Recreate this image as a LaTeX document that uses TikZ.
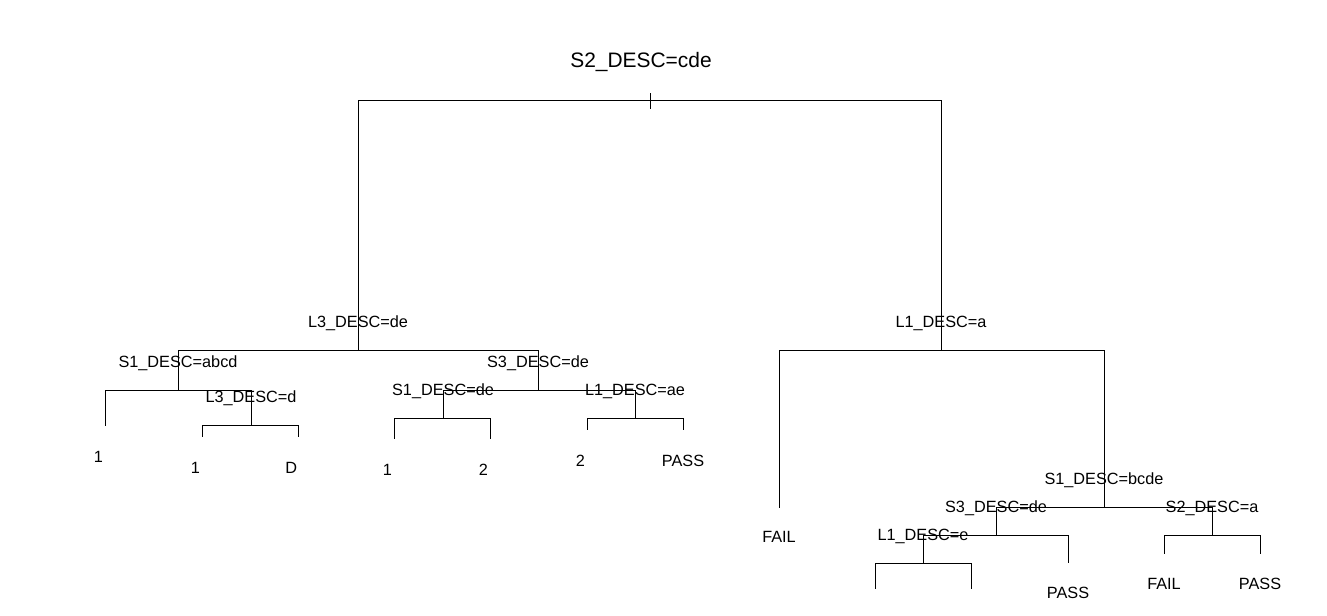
\documentclass[tikz,border=0pt]{standalone}
\usepackage{fontspec}
\setmainfont{Liberation Sans}

\tikzset{
  splitlbl/.style={anchor=base, inner sep=0pt, yshift=17pt,
    font=\fontsize{12.2}{14}\selectfont},
  leaflbl/.style={anchor=base, inner sep=0pt, yshift=#1,
    font=\fontsize{12.2}{14}\selectfont},
  leaflbl/.default=-27.5pt,
  toplbl/.style={anchor=base, inner sep=0pt,
    font=\fontsize{15.7}{18}\selectfont},
}

\begin{document}
\begin{tikzpicture}[x=0.75pt, y=-0.75pt, line width=0.75pt]
  \useasboundingbox (0,0) rectangle (1327,615);
  % splits
  \coordinate (n1) at (650,100);
  \coordinate (n2) at (358,350);
  \coordinate (n3) at (941,350);
  \coordinate (n4) at (178,390);
  \coordinate (n5) at (538,390);
  \coordinate (n9) at (251,425);
  \coordinate (n10) at (443,418);
  \coordinate (n11) at (635,418);
  \coordinate (n7) at (1104,507);
  \coordinate (n14) at (996,535);
  \coordinate (n15) at (1212,535);
  \coordinate (n28) at (923,563);
  % leaves
  \coordinate (n8) at (105,426);
  \coordinate (n18) at (202,437);
  \coordinate (n19) at (298,437);
  \coordinate (n20) at (394,439);
  \coordinate (n21) at (490,439);
  \coordinate (n22) at (587,430);
  \coordinate (n23) at (683,430);
  \coordinate (n6) at (779,508);
  \coordinate (n29) at (1068,563);
  \coordinate (n30) at (1164,554);
  \coordinate (n31) at (1260,554);
  \coordinate (n56) at (875,589);
  \coordinate (n57) at (971,589);

  % root
  \draw ([yshift=5pt]n1) -- ([yshift=-7pt]n1);
  \draw (n1) -| (n2);
  \draw (n1) -| (n3);
  % left half
  \draw (n2) -| (n4);
  \draw (n2) -| (n5);
  \draw (n4) -| (n8);
  \draw (n4) -| (n9);
  \draw (n9) -| (n18);
  \draw (n9) -| (n19);
  \draw (n5) -| (n10);
  \draw (n5) -| (n11);
  \draw (n10) -| (n20);
  \draw (n10) -| (n21);
  \draw (n11) -| (n22);
  \draw (n11) -| (n23);
  % right half
  \draw (n3) -| (n6);
  \draw (n3) -| (n7);
  \draw (n7) -| (n14);
  \draw (n7) -| (n15);
  \draw (n14) -| (n28);
  \draw (n14) -| (n29);
  \draw (n28) -| (n56);
  \draw (n28) -| (n57);
  \draw (n15) -| (n30);
  \draw (n15) -| (n31);

  % labels
  \node[toplbl] (t1) at (641,67) {S2\_DESC=cde};
  \node[splitlbl] (t2) at (n2) {L3\_DESC=de};
  \node[splitlbl] (t3) at (n3) {L1\_DESC=a};
  \node[splitlbl] (t4) at (n4) {S1\_DESC=abcd};
  \node[splitlbl] (t5) at (n5) {S3\_DESC=de};
  \node[splitlbl] (t9) at (n9) {L3\_DESC=d};
  \node[splitlbl] (t10) at (n10) {S1\_DESC=de};
  \node[splitlbl] (t11) at (n11) {L1\_DESC=ae};
  \node[splitlbl] (t7) at (n7) {S1\_DESC=bcde};
  \node[splitlbl] (t14) at (n14) {S3\_DESC=de};
  \node[splitlbl] (t15) at (n15) {S2\_DESC=a};
  \node[splitlbl] (t28) at (n28) {L1\_DESC=e};
  \node[leaflbl, xshift=-5pt] (t8) at (n8) {1};
  \node[leaflbl, xshift=-5pt] (t18) at (n18) {1};
  \node[leaflbl, xshift=-5pt] (t19) at (n19) {D};
  \node[leaflbl, xshift=-5pt] (t20) at (n20) {1};
  \node[leaflbl, xshift=-5pt] (t21) at (n21) {2};
  \node[leaflbl, xshift=-5pt] (t22) at (n22) {2};
  \node[leaflbl] (t23) at (n23) {PASS};
  \node[leaflbl=-25.5pt] (t6) at (n6) {FAIL};
  \node[leaflbl=-26.25pt] (t29) at (n29) {PASS};
  \node[leaflbl=-26.25pt] (t30) at (n30) {FAIL};
  \node[leaflbl=-26.25pt] (t31) at (n31) {PASS};
\end{tikzpicture}
\end{document}
